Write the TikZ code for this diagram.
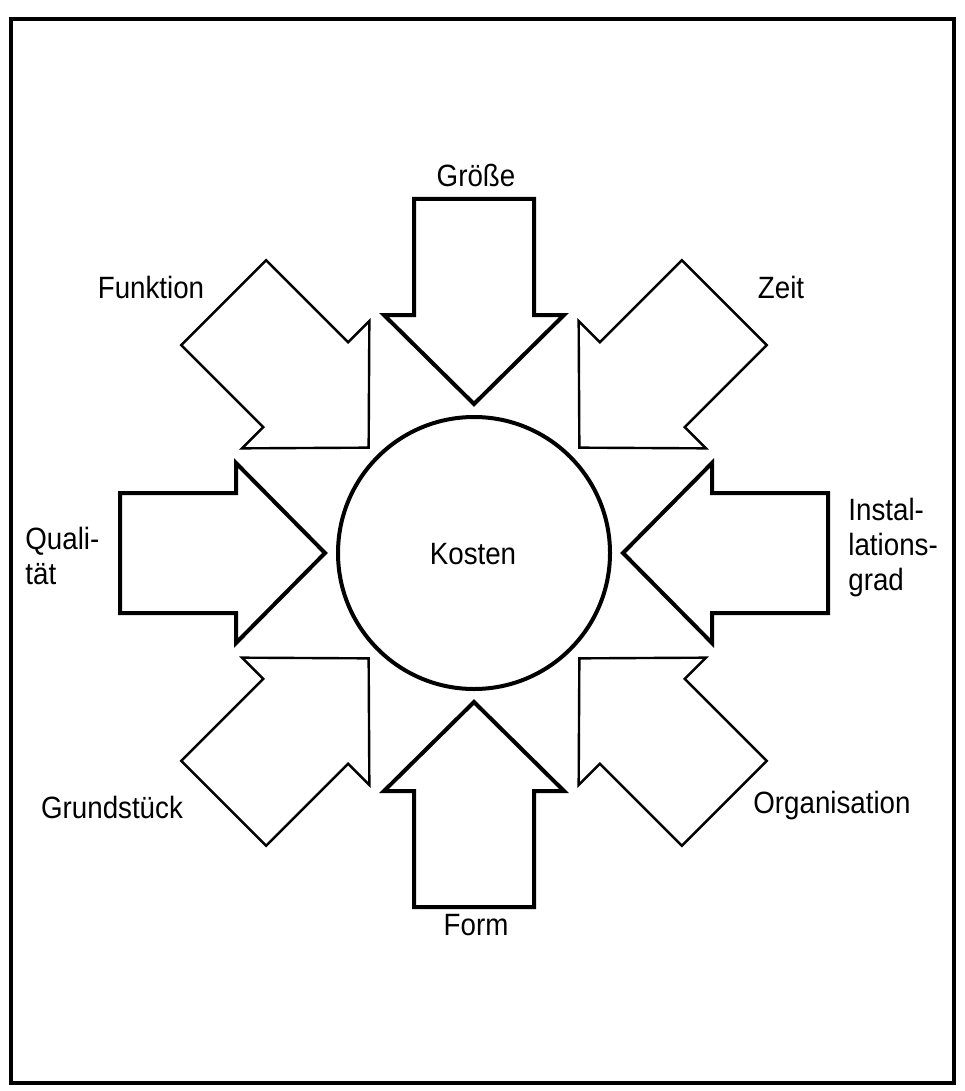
\documentclass[tikz,border=0pt]{standalone}
\usepackage{fontspec}
\setmainfont[FakeStretch=0.9]{Liberation Sans}
\begin{document}
\begin{tikzpicture}[x=0.5pt,y=-0.5pt,
  lbl/.style={font=\fontsize{15.4}{17.5}\selectfont, inner sep=0pt},
  bigarrow/.style={draw=black, line width=2pt, line join=miter, fill=white},
  thinarrow/.style={draw=black, line width=1.2pt, line join=miter, fill=white}]
\useasboundingbox (0,0) rectangle (964,1091);
\fill[white] (0,0) rectangle (964,1091);
\draw[line width=1.6pt] (11,19) rectangle (954,1083);
\coordinate (c) at (474,553);
% arrows: tip at distance 149 from centre, pointing inwards
\foreach \ang/\sty in {0/bigarrow,90/bigarrow,180/bigarrow,270/bigarrow,45/thinarrow,135/thinarrow,225/thinarrow,315/thinarrow}{
  \draw[\sty, shift={(c)}, rotate=\ang]
    (149,0) -- (238,90) -- (238,60) -- (354,60) -- (354,-60) -- (238,-60) -- (238,-90) -- cycle;
}
\node[draw=black, line width=2pt, circle, minimum size=272pt*0.5, inner sep=0pt] (k) at (c) {};
\node[lbl] (kt) at (473,554) {Kosten};
\node[lbl] (gr) at (476,175) {Größe};
\node[lbl] (fu) at (151,287) {Funktion};
\node[lbl] (ze) at (781,287) {Zeit};
\node[lbl, anchor=west, align=left] (qu) at (25,556) {Quali-\\tät};
\node[lbl, anchor=west, align=left] (in) at (848,548) {Instal-\\lations-\\grad};
\node[lbl] (gs) at (112,807) {Grundstück};
\node[lbl] (or) at (832,806) {Organisation};
\node[lbl] (fo) at (476,925) {Form};
\end{tikzpicture}
\end{document}
